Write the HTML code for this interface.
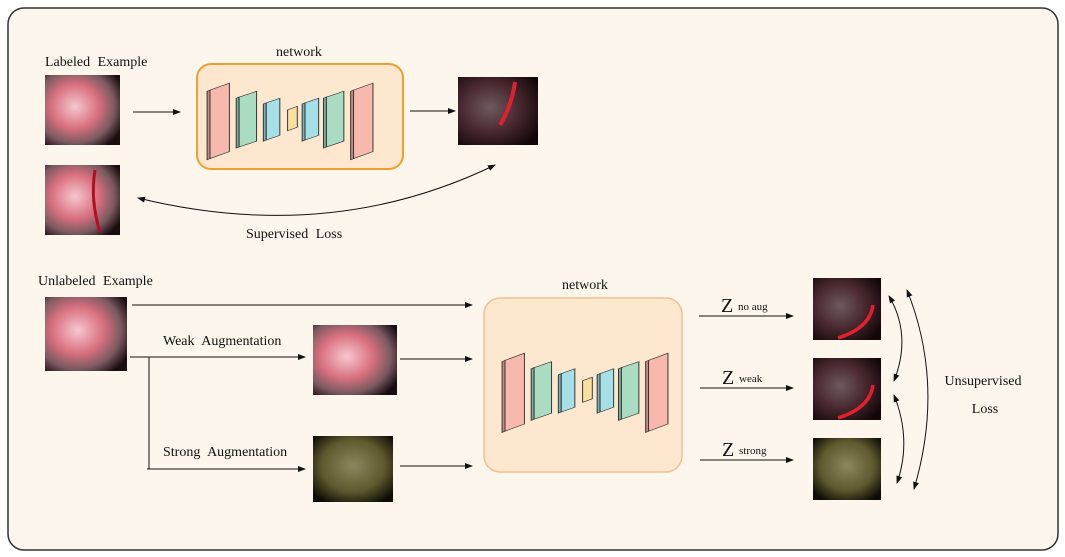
<!DOCTYPE html>
<html><head><meta charset="utf-8"><style>
html,body{margin:0;padding:0;background:#fff;}
svg{display:block;}
text{font-family:"Liberation Serif",serif;fill:#111;word-spacing:4px;}
</style></head><body>
<svg width="1065" height="557" viewBox="0 0 1065 557" xmlns="http://www.w3.org/2000/svg">
<defs>
<marker id="a" markerWidth="8" markerHeight="8" refX="7" refY="4" orient="auto" markerUnits="userSpaceOnUse"><path d="M0,1 L8,4 L0,7z" fill="#111"/></marker>
<marker id="s" markerWidth="8" markerHeight="8" refX="1" refY="4" orient="auto" markerUnits="userSpaceOnUse"><path d="M8,1 L0,4 L8,7z" fill="#111"/></marker>
<radialGradient id="pink" cx="40%" cy="45%" r="70%"><stop offset="0" stop-color="#f5c8cf"/><stop offset="0.45" stop-color="#d9707f"/><stop offset="0.75" stop-color="#7a5a60"/><stop offset="1" stop-color="#1a0d10"/></radialGradient>
<radialGradient id="red" cx="40%" cy="45%" r="70%"><stop offset="0" stop-color="#6e5a5e"/><stop offset="0.5" stop-color="#4a2a30"/><stop offset="1" stop-color="#120608"/></radialGradient>
<radialGradient id="yel" cx="50%" cy="45%" r="65%"><stop offset="0" stop-color="#8a8860"/><stop offset="0.6" stop-color="#5e5a2e"/><stop offset="1" stop-color="#0e0c06"/></radialGradient>
<g id="net" stroke="#333" stroke-width="1">
<polygon points="-3,16 0,14 0,132 -3,134" fill="#c98a80"/>
<polygon points="0,14 20,2 20,120 0,132" fill="#f7b9ad"/>
<polygon points="27,28 30,26 30,112 27,114" fill="#7fae96"/>
<polygon points="30,26 48,16 48,102 30,112" fill="#a9dcc1"/>
<polygon points="55,38 58,36 58,100 55,102" fill="#7bb0b6"/>
<polygon points="58,36 72,28 72,92 58,100" fill="#a4e0e6"/>
<polygon points="80,48 90,42 90,78 80,84" fill="#f7e0a0"/>
<polygon points="95,38 98,36 98,100 95,102" fill="#7bb0b6"/>
<polygon points="98,36 112,28 112,92 98,100" fill="#a4e0e6"/>
<polygon points="117,28 120,26 120,112 117,114" fill="#7fae96"/>
<polygon points="120,26 138,16 138,102 120,112" fill="#a9dcc1"/>
<polygon points="145,16 148,14 148,132 145,134" fill="#c98a80"/>
<polygon points="148,14 168,2 168,120 148,132" fill="#f7b9ad"/>
</g>
</defs>
<rect x="0" y="0" width="1065" height="557" fill="#fff"/>
<rect x="8" y="8" width="1050" height="542" rx="16" fill="#fdf6ec" stroke="#333" stroke-width="1.5"/>

<text x="45" y="66" font-size="14">Labeled Example</text>
<rect x="45" y="75" width="75" height="70" fill="url(#pink)"/>
<rect x="45" y="165" width="75" height="70" fill="url(#pink)"/>
<path d="M95,170 Q90,200 100,232" stroke="#b01020" stroke-width="3" fill="none"/>
<line x1="133" y1="112" x2="180" y2="112" stroke="#111" marker-end="url(#a)"/>
<text x="276" y="56" font-size="14">network</text>
<rect x="197" y="64" width="206" height="105" rx="14" fill="#fde7cf" stroke="#f0a030" stroke-width="2"/>
<use href="#net" transform="translate(210,82) scale(0.97,0.58)"/>
<line x1="410" y1="111" x2="455" y2="111" stroke="#111" marker-end="url(#a)"/>
<rect x="458" y="77" width="80" height="68" fill="url(#red)"/>
<path d="M515,82 Q512,105 500,125" stroke="#e02030" stroke-width="4" fill="none"/>
<path d="M138,198 Q330,245 495,165" stroke="#111" fill="none" marker-start="url(#s)" marker-end="url(#a)"/>
<text x="246" y="238" font-size="14">Supervised Loss</text>

<text x="38" y="285" font-size="14">Unlabeled Example</text>
<rect x="45" y="297" width="82" height="74" fill="url(#pink)"/>
<line x1="132" y1="305" x2="472" y2="305" stroke="#111" marker-end="url(#a)"/>
<line x1="130" y1="357" x2="305" y2="357" stroke="#111" marker-end="url(#a)"/>
<line x1="149" y1="357" x2="149" y2="469" stroke="#111"/>
<line x1="147" y1="469" x2="305" y2="469" stroke="#111" marker-end="url(#a)"/>
<text x="163" y="345" font-size="14">Weak Augmentation</text>
<text x="163" y="456" font-size="14">Strong Augmentation</text>
<rect x="313" y="325" width="84" height="70" fill="url(#pink)"/>
<rect x="313" y="436" width="80" height="66" fill="url(#yel)"/>
<line x1="400" y1="359" x2="472" y2="359" stroke="#111" marker-end="url(#a)"/>
<line x1="400" y1="466" x2="472" y2="466" stroke="#111" marker-end="url(#a)"/>
<text x="562" y="289" font-size="14">network</text>
<rect x="484" y="298" width="198" height="174" rx="16" fill="#fde7cf" stroke="#f5c090" stroke-width="1.5"/>
<use href="#net" transform="translate(505,352) scale(0.97,0.6)"/>

<line x1="699" y1="316" x2="793" y2="316" stroke="#111" marker-end="url(#a)"/>
<line x1="700" y1="388" x2="793" y2="388" stroke="#111" marker-end="url(#a)"/>
<line x1="700" y1="460" x2="793" y2="460" stroke="#111" marker-end="url(#a)"/>
<text x="721" y="312" font-size="20">Z</text><text x="738" y="310" font-size="11" style="word-spacing:0">no aug</text>
<text x="722" y="384" font-size="20">Z</text><text x="739" y="382" font-size="11">weak</text>
<text x="722" y="456" font-size="20">Z</text><text x="739" y="454" font-size="11">strong</text>
<rect x="813" y="278" width="68" height="62" fill="url(#red)"/>
<path d="M873,305 Q870,328 838,338" stroke="#e02030" stroke-width="3.5" fill="none"/>
<rect x="813" y="358" width="68" height="62" fill="url(#red)"/>
<path d="M873,385 Q870,408 838,418" stroke="#e02030" stroke-width="3.5" fill="none"/>
<rect x="813" y="438" width="68" height="62" fill="url(#yel)"/>
<path d="M889,296 Q912,335 894,381" stroke="#111" fill="none" marker-start="url(#s)" marker-end="url(#a)"/>
<path d="M894,395 Q912,440 897,483" stroke="#111" fill="none" marker-start="url(#s)" marker-end="url(#a)"/>
<path d="M907,290 Q945,385 914,489" stroke="#111" fill="none" marker-start="url(#s)" marker-end="url(#a)"/>
<text x="983" y="385" font-size="14" text-anchor="middle">Unsupervised</text>
<text x="985" y="413" font-size="14" text-anchor="middle">Loss</text>
</svg>
</body></html>
